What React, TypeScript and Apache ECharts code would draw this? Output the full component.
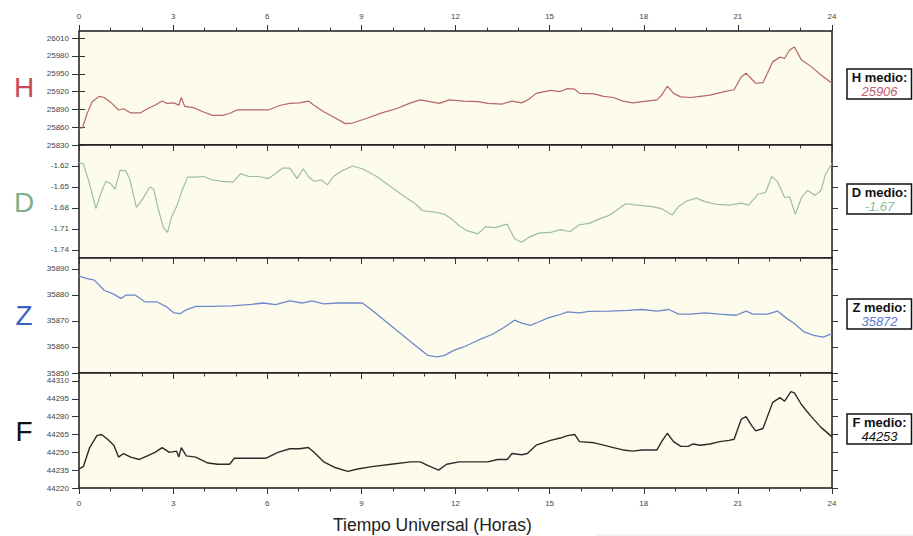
import React, { useEffect, useRef } from "react";
import * as echarts from "echarts";

// ---- data (hours UT, values) ----
const hT = [0,0.11,0.26,0.42,0.65,0.8,1.03,1.26,1.42,1.65,1.95,2.18,2.42,2.65,2.8,3.03,3.18,3.26,3.37,3.65,3.95,4.26,4.57,4.8,5.03,5.49,6.03,6.42,6.72,7.03,7.31,7.49,7.8,8.11,8.49,8.72,9.18,9.65,10.11,10.57,10.88,11.18,11.49,11.8,12.26,12.72,13.03,13.49,13.8,14.11,14.34,14.57,15.03,15.34,15.57,15.8,15.95,16.42,16.72,17.03,17.34,17.65,17.95,18.42,18.57,18.75,18.95,19.18,19.49,19.8,20.11,20.57,20.88,21.11,21.26,21.42,21.57,21.8,22.11,22.34,22.49,22.65,22.8,23.03,23.34,23.65,24];
const hV = [25858,25859,25883,25903,25912,25910,25901,25889,25891,25884,25884,25891,25897,25904,25900,25901,25897,25910,25895,25893,25886,25880,25880,25883,25889,25889,25889,25897,25900,25901,25904,25897,25886,25877,25866,25867,25875,25884,25891,25901,25906,25903,25900,25906,25904,25903,25900,25899,25904,25901,25907,25917,25922,25920,25925,25924,25917,25916,25912,25910,25904,25901,25903,25906,25914,25929,25917,25911,25910,25912,25914,25920,25923,25945,25951,25942,25934,25935,25970,25978,25976,25990,25995,25973,25962,25948,25934];

const dT = [0,0.14,0.34,0.54,0.69,0.85,1.0,1.15,1.31,1.49,1.62,1.83,2.03,2.26,2.38,2.54,2.69,2.82,2.95,3.11,3.26,3.46,3.72,3.98,4.26,4.57,4.91,5.15,5.42,5.72,6.03,6.26,6.49,6.72,6.95,7.15,7.31,7.49,7.72,7.92,8.11,8.38,8.72,9.03,9.49,9.95,10.42,10.72,10.95,11.34,11.65,11.88,12.11,12.34,12.72,12.95,13.26,13.65,13.88,14.11,14.34,14.65,15.03,15.34,15.65,15.95,16.26,16.57,16.88,17.11,17.42,17.8,18.26,18.57,18.91,19.11,19.37,19.68,19.95,20.34,20.72,21.11,21.34,21.65,21.88,22.08,22.26,22.49,22.65,22.83,23.03,23.22,23.46,23.65,23.8,24];
const dV = [-1.615,-1.617,-1.646,-1.681,-1.660,-1.642,-1.645,-1.653,-1.626,-1.627,-1.639,-1.679,-1.667,-1.650,-1.653,-1.684,-1.708,-1.715,-1.693,-1.678,-1.658,-1.636,-1.636,-1.635,-1.640,-1.642,-1.643,-1.631,-1.635,-1.635,-1.638,-1.631,-1.623,-1.623,-1.638,-1.624,-1.635,-1.642,-1.640,-1.647,-1.635,-1.627,-1.620,-1.624,-1.635,-1.650,-1.665,-1.674,-1.684,-1.686,-1.689,-1.696,-1.705,-1.712,-1.717,-1.707,-1.708,-1.703,-1.724,-1.729,-1.722,-1.716,-1.715,-1.711,-1.714,-1.704,-1.702,-1.696,-1.691,-1.684,-1.674,-1.676,-1.678,-1.681,-1.690,-1.678,-1.670,-1.666,-1.671,-1.675,-1.676,-1.673,-1.676,-1.660,-1.658,-1.635,-1.642,-1.665,-1.664,-1.689,-1.665,-1.655,-1.662,-1.655,-1.631,-1.616];

const zT = [0,0.26,0.49,0.8,1.11,1.34,1.49,1.8,2.11,2.49,2.8,3.03,3.22,3.42,3.72,4.26,4.88,5.49,5.88,6.26,6.72,7.11,7.42,7.8,8.26,9.03,9.34,9.8,10.26,10.72,11.11,11.42,11.65,11.95,12.26,12.72,13.18,13.57,13.88,14.11,14.38,14.65,14.95,15.26,15.57,15.95,16.26,16.88,17.49,17.95,18.42,18.8,19.11,19.49,19.95,20.42,20.95,21.26,21.49,21.95,22.26,22.57,22.8,23.11,23.42,23.72,24];
const zV = [35887.2,35886.3,35885.7,35881.8,35880.3,35878.6,35879.9,35879.9,35877.3,35877.3,35875.4,35873.1,35872.8,35874.3,35875.6,35875.6,35875.8,35876.4,35876.9,35876.3,35877.7,35876.9,35877.7,35876.6,35876.9,35876.9,35874.1,35869.6,35865.1,35860.6,35856.8,35856.2,35856.8,35858.7,35860.0,35862.6,35864.9,35867.7,35870.3,35869.2,35868.3,35869.6,35871.2,35872.2,35873.5,35873.1,35873.7,35873.8,35874.1,35874.4,35873.8,35874.4,35872.6,35872.6,35873.1,35872.6,35872.2,35873.8,35872.6,35872.6,35873.8,35870.9,35869.0,35865.8,35864.5,35863.8,35865.1];

const fT = [0,0.14,0.34,0.57,0.72,0.91,1.11,1.26,1.42,1.65,1.92,2.18,2.42,2.65,2.88,3.11,3.18,3.26,3.42,3.72,4.11,4.42,4.8,4.95,5.34,5.95,6.34,6.72,7.03,7.31,7.49,7.8,8.18,8.57,8.88,9.34,9.95,10.57,10.88,11.11,11.46,11.72,12.11,12.57,13.03,13.34,13.65,13.8,14.11,14.29,14.57,15.03,15.34,15.57,15.8,15.95,16.42,16.72,17.03,17.34,17.65,17.95,18.42,18.57,18.75,18.95,19.18,19.42,19.57,19.8,20.11,20.42,20.72,20.88,21.11,21.26,21.45,21.57,21.8,22.11,22.34,22.49,22.69,22.8,23.03,23.34,23.65,24];
const fV = [44236,44238,44254,44264,44265,44261,44256,44246,44249,44246,44244,44247,44250,44254,44250,44251,44246,44254,44247,44246,44241,44240,44240,44245,44245,44245,44250,44253,44253,44254,44250,44242,44237,44234,44236,44238,44240,44242,44242,44239,44235,44240,44242,44242,44242,44244,44244,44249,44248,44249,44256,44260,44262,44264,44265,44259,44258,44256,44254,44252,44251,44252,44252,44259,44266,44259,44255,44255,44257,44256,44257,44259,44260,44261,44278,44280,44272,44268,44270,44292,44296,44293,44301,44300,44290,44280,44271,44263];

const hTicks = [25830, 25860, 25890, 25920, 25950, 25980, 26010];
const dTicks = [-1.74, -1.71, -1.68, -1.65, -1.62];
const zTicks = [35850, 35860, 35870, 35880, 35890];
const fTicks = [44220, 44235, 44250, 44265, 44280, 44295, 44310];

const panelNames = ["H", "D", "Z", "F"];
const meanLabels = ["H medio:", "D medio:", "Z medio:", "F medio:"];
const meanValues = ["25906", "-1.67", "35872", "44253"];
const xTitle = "Tiempo Universal (Horas)";

const zip = (t: number[], v: number[]) => {
  const n = Math.min(t.length, v.length);
  const out: number[][] = [];
  for (let i = 0; i < n; i++) out.push([t[i], v[i]]);
  return out;
};

const FONT = "Liberation Sans";

export default function App() {
  const ref = useRef<HTMLDivElement>(null);
  useEffect(() => {
    if (!ref.current) return;
    const chart = echarts.init(ref.current, undefined, { renderer: "svg" });

    const grids = [
      { top: 31, height: 114 },
      { top: 145, height: 113 },
      { top: 258, height: 115 },
      { top: 373, height: 115 },
    ].map((g) => ({
      left: 79,
      width: 753,
      top: g.top,
      height: g.height,
      show: true,
      backgroundColor: "#fdfcec",
      borderColor: "#1a1a1a",
      borderWidth: 1.5,
    }));

    const ranges = [
      { min: 25830, max: 26022, ticks: hTicks, fmt: (v: number) => String(v) },
      { min: -1.7515, max: -1.59, ticks: dTicks, fmt: (v: number) => v.toFixed(2) },
      { min: 35850, max: 35894.2, ticks: zTicks, fmt: (v: number) => String(v) },
      { min: 44220, max: 44316.7, ticks: fTicks, fmt: (v: number) => String(v) },
    ];

    const tickColor = "#333";
    const labelStyle = { color: "#444", fontSize: 8, fontFamily: FONT };

    const mkX = (gi: number, pos: string, showLabel: boolean) => ({
      type: "value",
      gridIndex: gi,
      position: pos,
      min: 0,
      max: 24,
      interval: 3,
      axisLine: { show: false },
      splitLine: { show: false },
      axisTick: { show: true, length: 6, lineStyle: { color: tickColor, width: 1 } },
      minorTick: { show: true, splitNumber: 3, length: 3.5, lineStyle: { color: tickColor, width: 1 } },
      minorSplitLine: { show: false },
      axisLabel: { show: showLabel, margin: 11, formatter: (v: number) => String(v), ...labelStyle },
    });

    const xAxes = [
      mkX(0, "bottom", false),
      mkX(0, "top", true),
      mkX(1, "bottom", false),
      mkX(2, "bottom", false),
      mkX(3, "bottom", true),
    ];

    const yAxes: any[] = [];
    ranges.forEach((r, gi) => {
      yAxes.push({
        type: "value",
        gridIndex: gi,
        position: "left",
        min: r.min,
        max: r.max,
        axisLine: { show: false },
        splitLine: { show: false },
        axisTick: { show: true, length: 7, customValues: r.ticks, lineStyle: { color: tickColor } },
        axisLabel: { show: true, margin: 10, customValues: r.ticks, formatter: r.fmt, ...labelStyle },
      });
      yAxes.push({
        type: "value",
        gridIndex: gi,
        position: "right",
        min: r.min,
        max: r.max,
        axisLine: { show: false },
        splitLine: { show: false },
        axisTick: { show: true, length: 6, customValues: r.ticks, lineStyle: { color: tickColor } },
        axisLabel: { show: false },
      });
    });

    const lineColors = ["#b86664", "#9cbf9e", "#6e88cc", "#2b2b2b"];
    const lineWidths = [1.2, 1.2, 1.3, 1.4];
    const datasets = [zip(hT, hV), zip(dT, dV), zip(zT, zV), zip(fT, fV)];
    const xIdx = [0, 2, 3, 4];

    const series = datasets.map((d, i) => ({
      type: "line",
      xAxisIndex: xIdx[i],
      yAxisIndex: i * 2,
      data: d,
      showSymbol: false,
      symbol: "none",
      lineStyle: { color: lineColors[i], width: lineWidths[i] },
      silent: true,
    }));

    const letterColors = ["#c44b55", "#7db08c", "#3d62c6", "#111111"];
    const letterY = [87, 202, 315, 431];
    const valueColors = ["#c0606a", "#8cbc98", "#5a78d0", "#111111"];
    const boxTop = [69, 184, 299, 414];

    const graphics: any[] = [];
    panelNames.forEach((n, i) => {
      graphics.push({
        type: "text",
        x: 24,
        y: letterY[i],
        style: {
          text: n,
          fill: letterColors[i],
          font: `normal 28px "${FONT}"`,
          align: "center",
          verticalAlign: "middle",
        },
        silent: true,
      });
      graphics.push({
        type: "group",
        x: 847,
        y: boxTop[i],
        silent: true,
        children: [
          {
            type: "rect",
            shape: { x: 0, y: 0, width: 64.5, height: 30 },
            style: { fill: "#ffffff", stroke: "#111", lineWidth: 1.5 },
          },
          {
            type: "text",
            x: 32.5,
            y: 8.5,
            style: {
              text: meanLabels[i],
              fill: "#111",
              font: `bold 13px "${FONT}"`,
              align: "center",
              verticalAlign: "middle",
            },
          },
          {
            type: "text",
            x: 32.5,
            y: 22,
            style: {
              text: meanValues[i],
              fill: valueColors[i],
              font: `italic 13px "${FONT}"`,
              align: "center",
              verticalAlign: "middle",
            },
          },
        ],
      });
    });
    graphics.push({
      type: "text",
      x: 333,
      y: 525,
      style: {
        text: xTitle,
        fill: "#222",
        font: `normal 17.5px "${FONT}"`,
        align: "left",
        verticalAlign: "middle",
      },
      silent: true,
    });
    graphics.push({
      type: "line",
      shape: { x1: 597, y1: 535, x2: 913, y2: 535 },
      style: { stroke: "#e4e4e4", lineWidth: 1 },
      silent: true,
    });

    chart.setOption({
      animation: false,
      backgroundColor: "#ffffff",
      textStyle: { fontFamily: FONT },
      grid: grids,
      xAxis: xAxes,
      yAxis: yAxes,
      series,
      graphic: graphics,
    });

    return () => chart.dispose();
  }, []);

  return (
    <div
      ref={ref}
      style={{ position: "absolute", left: 0, top: 0, width: 913, height: 536 }}
    />
  );
}
